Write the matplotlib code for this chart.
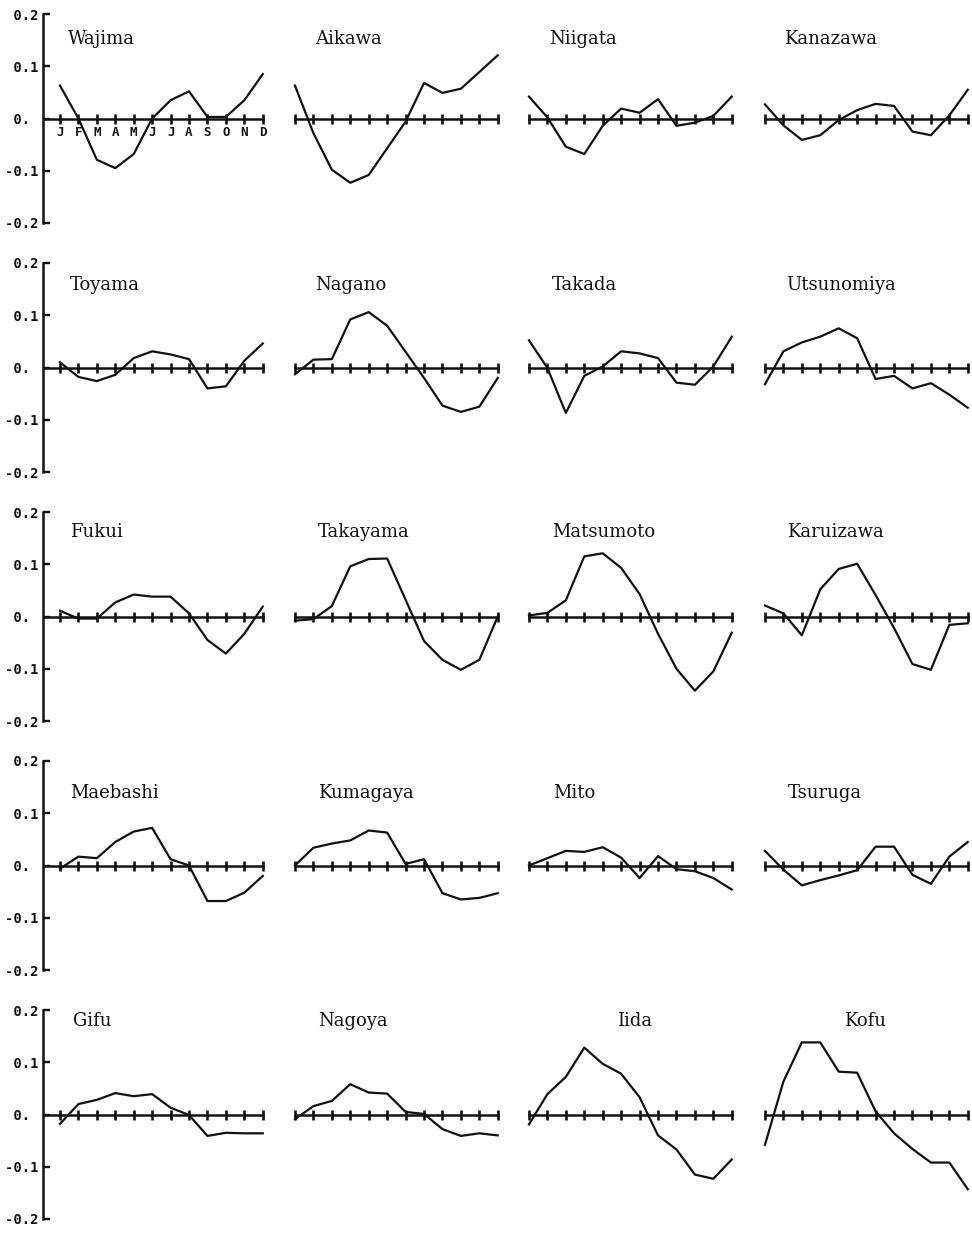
import matplotlib.pyplot as plt
import numpy as np

# monthly values (J..D)
months = np.arange(1, 13)
month_letters = ["J", "F", "M", "A", "M", "J", "J", "A", "S", "O", "N", "D"]

wajima = [0.063, 0.0, -0.079, -0.095, -0.068, 0.0, 0.035, 0.052, 0.003, 0.003, 0.035, 0.085]
aikawa = [0.063, -0.028, -0.098, -0.123, -0.108, -0.057, -0.006, 0.068, 0.049, 0.057, 0.089, 0.121]
niigata = [0.042, 0.002, -0.054, -0.068, -0.014, 0.019, 0.011, 0.037, -0.014, -0.008, 0.005, 0.042]
kanazawa = [0.027, -0.013, -0.041, -0.032, -0.003, 0.016, 0.028, 0.024, -0.025, -0.032, 0.006, 0.055]

toyama = [0.01, -0.018, -0.026, -0.014, 0.018, 0.031, 0.025, 0.016, -0.04, -0.036, 0.013, 0.046]
nagano = [-0.013, 0.015, 0.016, 0.092, 0.106, 0.08, 0.03, -0.02, -0.073, -0.085, -0.075, -0.02]
takada = [0.052, -0.001, -0.087, -0.016, 0.002, 0.031, 0.027, 0.018, -0.029, -0.033, 0.002, 0.059]
utsunomiya = [-0.032, 0.031, 0.048, 0.059, 0.075, 0.056, -0.022, -0.016, -0.04, -0.03, -0.052, -0.077]

fukui = [0.011, -0.004, -0.004, 0.027, 0.042, 0.038, 0.038, 0.006, -0.045, -0.071, -0.033, 0.019]
takayama = [-0.008, -0.005, 0.02, 0.096, 0.11, 0.111, 0.032, -0.047, -0.083, -0.102, -0.083, 0.0]
matsumoto = [0.002, 0.007, 0.031, 0.115, 0.121, 0.093, 0.043, -0.033, -0.1, -0.142, -0.105, -0.031]
karuizawa = [0.021, 0.006, -0.036, 0.052, 0.091, 0.101, 0.041, -0.022, -0.091, -0.102, -0.016, -0.013]

maebashi = [-0.006, 0.017, 0.014, 0.045, 0.065, 0.072, 0.012, 0.0, -0.068, -0.068, -0.052, -0.02]
kumagaya = [0.0, 0.034, 0.042, 0.048, 0.067, 0.063, 0.003, 0.012, -0.053, -0.065, -0.062, -0.053]
mito = [0.0, 0.014, 0.028, 0.026, 0.035, 0.015, -0.024, 0.018, -0.007, -0.011, -0.024, -0.046]
tsuruga = [0.028, -0.008, -0.038, -0.028, -0.019, -0.009, 0.036, 0.036, -0.018, -0.035, 0.017, 0.045]

gifu = [-0.018, 0.02, 0.028, 0.041, 0.035, 0.039, 0.013, -0.001, -0.041, -0.035, -0.036, -0.036]
nagoya = [-0.009, 0.016, 0.026, 0.058, 0.042, 0.04, 0.005, 0.001, -0.028, -0.041, -0.036, -0.04]
iida = [-0.019, 0.039, 0.072, 0.128, 0.097, 0.078, 0.033, -0.04, -0.067, -0.115, -0.123, -0.086]
kofu = [-0.058, 0.063, 0.138, 0.138, 0.082, 0.08, 0.006, -0.036, -0.066, -0.092, -0.092, -0.143]

grid = [
    [("Wajima", wajima), ("Aikawa", aikawa), ("Niigata", niigata), ("Kanazawa", kanazawa)],
    [("Toyama", toyama), ("Nagano", nagano), ("Takada", takada), ("Utsunomiya", utsunomiya)],
    [("Fukui", fukui), ("Takayama", takayama), ("Matsumoto", matsumoto), ("Karuizawa", karuizawa)],
    [("Maebashi", maebashi), ("Kumagaya", kumagaya), ("Mito", mito), ("Tsuruga", tsuruga)],
    [("Gifu", gifu), ("Nagoya", nagoya), ("Iida", iida), ("Kofu", kofu)],
]

yticks = [0.2, 0.1, 0.0, -0.1, -0.2]
ytick_labels = [" 0.2", " 0.1", " 0. ", "-0.1", "-0.2"]

# layout (pixels)
W, H = 972, 1235
ROW_TOP, ROW_STEP, PANEL_H = 14, 249, 209
COL_LEFT = [43, 278, 512, 748]
PANEL_W = 229
XLIM = (0.08, 12.5)
TITLE_Y = [0.153, 0.157, 0.162, 0.138, 0.178]
TITLE_X = [
    [1.45, 2.1, 2.1, 2.05],
    [1.55, 2.1, 2.25, 2.15],
    [1.55, 2.25, 2.25, 2.2],
    [1.55, 2.25, 2.3, 2.25],
    [1.7, 2.25, 5.8, 5.3],
]
INK = "#111111"

fig = plt.figure(figsize=(W / 100, H / 100), dpi=100)

for i, row in enumerate(grid):
    top = ROW_TOP + i * ROW_STEP
    for j, (name, vals) in enumerate(row):
        ax = fig.add_axes([COL_LEFT[j] / W, 1 - (top + PANEL_H) / H, PANEL_W / W, PANEL_H / H])
        ax.set_xlim(*XLIM)
        ax.set_ylim(-0.2, 0.2)
        ax.patch.set_alpha(0)
        for s in ax.spines.values():
            s.set_visible(False)
        ax.set_xticks([])

        if j == 0:
            ax.spines["left"].set_visible(True)
            ax.spines["left"].set_linewidth(1.8)
            ax.spines["left"].set_color(INK)
            ax.set_yticks(yticks)
            ax.set_yticklabels(ytick_labels, family="DejaVu Sans Mono", weight="bold", fontsize=10)
            ax.tick_params(axis="y", direction="in", length=5, width=1.7, pad=3.5, colors=INK)
            ax.plot([XLIM[0], months[-1]], [0, 0], color=INK, lw=1.8)
        else:
            ax.set_yticks([])
            ax.plot([months[0], months[-1]], [0, 0], color=INK, lw=1.8)

        # month ticks on the zero line
        ax.plot(months, np.zeros(12), ls="none", marker="|", ms=6.5, mew=1.9, color=INK)

        ax.plot(months, vals, color=INK, lw=1.6)

        ax.text(TITLE_X[i][j], TITLE_Y[i], name, family="DejaVu Serif", fontsize=13,
                ha="left", va="center", color=INK)

        if i == 0 and j == 0:
            for m, letter in zip(months, month_letters):
                ax.text(m, -0.026, letter, ha="center", va="center", fontsize=9,
                        weight="bold", family="DejaVu Sans Mono", color=INK)

fig.savefig("out.png", dpi=100, facecolor="white")
